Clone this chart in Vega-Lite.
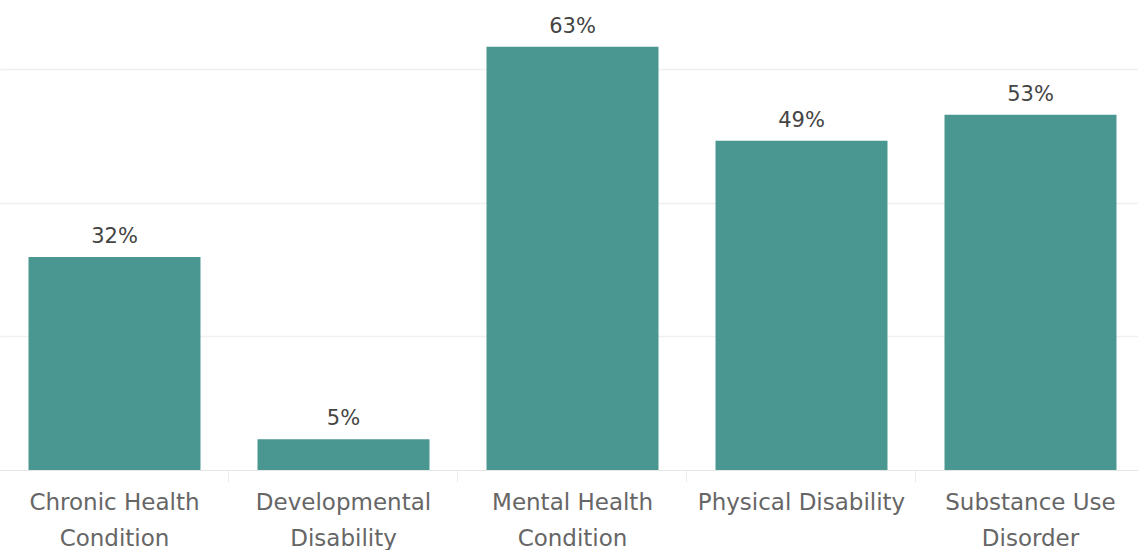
{
  "$schema": "https://vega.github.io/schema/vega-lite/v6.json",
  "width": 1145,
  "height": 470,
  "padding": {"left": 0, "top": 0, "right": 0, "bottom": 80},
  "autosize": {"type": "none"},
  "background": "white",
  "config": {"view": {"stroke": null}, "font": "DejaVu Sans"},
  "data": {"values": [
    {"category": "Chronic Health Condition", "pct": 0.319},
    {"category": "Developmental Disability", "pct": 0.046},
    {"category": "Mental Health Condition", "pct": 0.634},
    {"category": "Physical Disability", "pct": 0.493},
    {"category": "Substance Use Disorder", "pct": 0.532}
  ]},
  "encoding": {
    "x": {"field": "category", "type": "nominal", "sort": null,
      "scale": {"paddingInner": 0.249, "paddingOuter": 0.1245},
      "axis": {"title": null, "labelAngle": 0, "labelFontSize": 23, "labelColor": "#666666",
        "labelFont": "DejaVu Sans", "labelLineHeight": 36, "labelPadding": 27, "labelBaseline": "alphabetic",
        "labelExpr": "indexof(datum.label,'Physical')>=0 ? datum.label : [substring(datum.label,0,lastindexof(datum.label,' ')), substring(datum.label,lastindexof(datum.label,' ')+1)]",
        "bandPosition": 1.1657, "tickSize": 12, "tickColor": "#ececec", "domainColor": "#e6e6e6", "labelLimit": 300}},
    "y": {"field": "pct", "type": "quantitative",
      "scale": {"domain": [0, 0.704], "nice": false},
      "axis": {"title": null, "labels": false, "ticks": false, "domain": false, "values": [0.2, 0.4, 0.6], "gridColor": "#f0f0f0", "gridWidth": 1.5}}
  },
  "layer": [
    {"mark": {"type": "bar", "color": "#4a9792"}},
    {"mark": {"type": "text", "baseline": "alphabetic", "dy": -14, "fontSize": 21, "color": "#444444", "font": "DejaVu Sans"},
     "encoding": {"text": {"field": "pct", "type": "quantitative", "format": ".0%"}}}
  ]
}
